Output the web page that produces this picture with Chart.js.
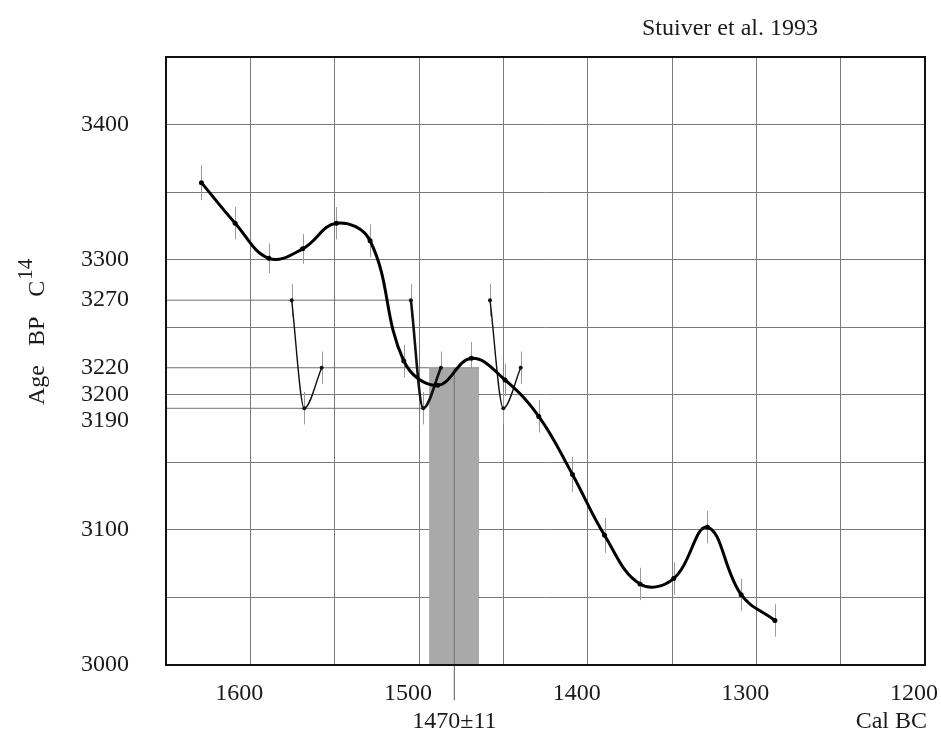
<!DOCTYPE html>
<html>
<head>
<meta charset="utf-8">
<script src="https://cdn.jsdelivr.net/npm/chart.js@4.4.1/dist/chart.umd.min.js"></script>
<style>
  html, body { margin: 0; padding: 0; background: #fff; }
  #wrap { width: 941px; height: 738px; position: relative; }
</style>
</head>
<body>
<div id="wrap"><canvas id="c14Chart"></canvas></div>
<script>
// calibration curve (Stuiver et al. 1993): cal BC -> 14C age BP
const calYears = [1629, 1609, 1589, 1569, 1549, 1529, 1509, 1489, 1469, 1449, 1429, 1409, 1390, 1369, 1349, 1329, 1309, 1289];
const c14Ages = [3357, 3327, 3301, 3308, 3327, 3314, 3225, 3207, 3227, 3211, 3184, 3141, 3096, 3060, 3064, 3102, 3052, 3033];
const c14Errors = [13, 12, 11, 11, 12, 12, 12, 12, 12, 12, 12, 13, 13, 12, 12, 12, 12, 12];

// the three small projected dates
const dateAges = [3270, 3190, 3220];
const dateCurve1 = [1575.5, 1568, 1557.7];
const dateCurve2 = [1504.8, 1497.5, 1487];
const dateCurve3 = [1457.9, 1450, 1439.7];
const dateErrors = [12, 12, 12];

// projection lines from the age axis
const refAges = [3270, 3220, 3190];
const refEnds = [1504.8, 1494, 1497.5];

// calibrated range
const rangeFrom = 1494;
const rangeTo = 1464.4;
const rangeTop = 3220;
const rangeMid = 1479;
const rangeLabel = '1470±11';

const xMin = 1200, xMax = 1650;
const xLabels = [1600, 1500, 1400, 1300, 1200];
const yTicks = [3000, 3050, 3100, 3150, 3190, 3200, 3220, 3250, 3270, 3300, 3350, 3400, 3450];
const yLabels = [3000, 3100, 3190, 3200, 3220, 3270, 3300, 3400];
const yPartial = [3190, 3220, 3270];

const serif = '"Liberation Serif", "Times New Roman", serif';
const pts = (xs, ys) => xs.map((x, i) => ({ x: x, y: ys[i] }));

const thinCurve = (xs, width) => ({
    data: pts(xs, dateAges),
    errors: dateErrors,
    borderColor: '#111',
    borderWidth: width,
    cubicInterpolationMode: 'monotone',
    pointRadius: 2,
    pointBackgroundColor: '#111',
    pointBorderWidth: 0,
    order: 2
});

const datasets = [
    {
        data: pts(calYears, c14Ages),
        errors: c14Errors,
        borderColor: '#000',
        borderWidth: 3,
        tension: 0.4,
        pointRadius: 2.5,
        pointBackgroundColor: '#000',
        pointBorderWidth: 0,
        order: 1
    },
    thinCurve(dateCurve1, 1.4),
    thinCurve(dateCurve2, 2.6),
    thinCurve(dateCurve3, 1.4),
    {
        // grey calibrated range box
        data: [{ x: rangeFrom, y: rangeTop }, { x: rangeTo, y: rangeTop }],
        borderColor: '#8c8c8c',
        borderWidth: 1,
        backgroundColor: '#a9a9a9',
        fill: 'start',
        pointRadius: 0,
        order: 10
    },
    {
        // marker through the range, down below the axis
        data: [{ x: rangeMid, y: rangeTop }, { x: rangeMid, y: 2974 }],
        borderColor: '#7d7d7d',
        borderWidth: 1,
        pointRadius: 0,
        clip: false,
        order: 9
    }
];

refAges.forEach((age, i) => {
    datasets.push({
        data: [{ x: xMax, y: age }, { x: refEnds[i], y: age }],
        borderColor: '#6e6e6e',
        borderWidth: 1,
        pointRadius: 0,
        order: 11
    });
});

const errorBars = {
    id: 'errorBars',
    beforeDatasetsDraw(chart) {
        const { ctx, scales: { x, y } } = chart;
        ctx.save();
        ctx.strokeStyle = '#9a9a9a';
        ctx.lineWidth = 1;
        chart.data.datasets.forEach(ds => {
            if (!ds.errors) return;
            ds.data.forEach((p, i) => {
                const px = Math.round(x.getPixelForValue(p.x)) + 0.5;
                ctx.beginPath();
                ctx.moveTo(px, y.getPixelForValue(p.y + ds.errors[i]));
                ctx.lineTo(px, y.getPixelForValue(p.y - ds.errors[i]));
                ctx.stroke();
            });
        });
        ctx.restore();
    }
};

const frameAndText = {
    id: 'frameAndText',
    afterDraw(chart) {
        const { ctx, chartArea: a, scales: { x } } = chart;
        ctx.save();
        ctx.strokeStyle = '#111';
        ctx.lineWidth = 2;
        ctx.strokeRect(a.left, a.top, a.right - a.left, a.bottom - a.top);

        ctx.fillStyle = '#1a1a1a';
        ctx.font = '24px ' + serif;
        ctx.textBaseline = 'middle';
        ctx.textAlign = 'center';
        ctx.fillText('Stuiver et al. 1993', a.right - 195, 29);
        ctx.fillText(rangeLabel, x.getPixelForValue(rangeMid), 722);
        ctx.textAlign = 'right';
        ctx.fillText('Cal BC', a.right + 2, 722);

        // y axis title with superscript
        ctx.translate(a.left - 122, 405);
        ctx.rotate(-Math.PI / 2);
        ctx.textAlign = 'left';
        ctx.textBaseline = 'alphabetic';
        let pos = 0;
        [['Age', 19], ['BP', 20], ['C', 1]].forEach(([t, gap]) => {
            ctx.fillText(t, pos, 0);
            pos += ctx.measureText(t).width + gap;
        });
        ctx.font = '21px ' + serif;
        ctx.fillText('14', pos, -12);
        ctx.restore();
    }
};

new Chart(document.getElementById('c14Chart'), {
    type: 'line',
    data: { datasets: datasets },
    options: {
        responsive: true,
        maintainAspectRatio: false,
        animation: false,
        layout: { padding: { top: 57, right: 16, left: 0, bottom: 0 } },
        plugins: { legend: { display: false }, tooltip: { enabled: false } },
        scales: {
            x: {
                type: 'linear',
                reverse: true,
                min: xMin,
                max: xMax,
                afterFit: s => { s.height = 73; s.paddingLeft = 0; s.paddingRight = 0; },
                grid: { color: '#7a7a7a', lineWidth: 1, drawTicks: false },
                border: { display: false },
                ticks: {
                    stepSize: 50,
                    padding: 14,
                    labelOffset: -11,
                    maxRotation: 0,
                    autoSkip: false,
                    color: '#1a1a1a',
                    font: { family: serif, size: 24 },
                    callback: v => xLabels.includes(v) ? String(v) : ''
                }
            },
            y: {
                type: 'linear',
                min: 3000,
                max: 3450,
                afterFit: s => { s.width = 166; s.paddingTop = 0; s.paddingBottom = 0; },
                afterBuildTicks: s => { s.ticks = yTicks.map(v => ({ value: v })); },
                grid: {
                    drawTicks: false,
                    lineWidth: 1,
                    color: c => yPartial.includes(c.tick && c.tick.value) ? 'rgba(0,0,0,0)' : '#7a7a7a'
                },
                border: { display: false },
                ticks: {
                    padding: 37,
                    autoSkip: false,
                    color: '#1a1a1a',
                    font: { family: serif, size: 24, lineHeight: 1.05 },
                    // 3190 sits just under 3200, so its label is pushed down one half line
                    callback: v => yLabels.includes(v) ? (v === 3190 ? ['', String(v)] : String(v)) : ''
                }
            }
        }
    },
    plugins: [errorBars, frameAndText]
});
</script>
</body>
</html>
